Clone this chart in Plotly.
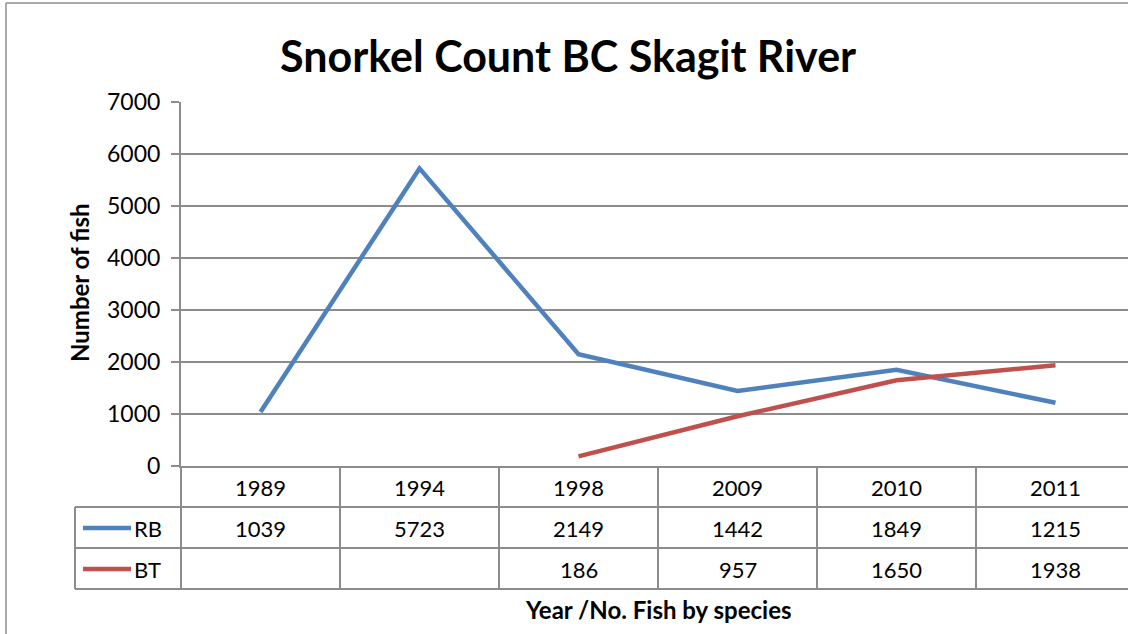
import plotly.graph_objects as go

years = ["1989", "1994", "1998", "2009", "2010", "2011"]
rb_values = [1039, 5723, 2149, 1442, 1849, 1215]
bt_values = [None, None, 186, 957, 1650, 1938]
series_names = ["RB", "BT"]
series_colors = ["#4F81BD", "#C0504D"]
y_ticks = [0, 1000, 2000, 3000, 4000, 5000, 6000, 7000]

W, H = 1128, 634
L, R, T, B = 181, 0, 102, 168
PW, PH = W - L - R, H - T - B
FONT = "Lato"
GRID = "#8C8C8C"

def px(p):
    return (p - L) / PW

def py(p):
    return (H - B - p) / PH

n = len(years)
xs = list(range(n))
col_w = 159.0
x0 = -0.5
x1 = x0 + PW / col_w

def xdata_to_paper(v):
    return (v - x0) / (x1 - x0)

fig = go.Figure()
all_vals = [rb_values, bt_values]
for name, vals, col in zip(series_names, all_vals, series_colors):
    fig.add_trace(go.Scatter(x=xs, y=vals, mode="lines", name=name,
                             line=dict(color=col, width=4.5), connectgaps=False,
                             showlegend=False, hoverinfo="skip"))

shapes = []
shapes.append(dict(type="line", xref="paper", yref="paper",
                   x0=px(6), x1=px(6), y0=py(H + 20), y1=py(3),
                   line=dict(color="#8C8C8C", width=1.5), layer="below"))
shapes.append(dict(type="line", xref="paper", yref="paper",
                   x0=px(6), x1=px(W + 20), y0=py(3), y1=py(3),
                   line=dict(color="#8C8C8C", width=1.5), layer="below"))
for yl in [507, 548, 589]:
    shapes.append(dict(type="line", xref="paper", yref="paper", x0=px(75), x1=px(W + 10),
                       y0=py(yl), y1=py(yl), line=dict(color=GRID, width=2)))
for k in range(n):
    xp = xdata_to_paper(k - 0.5)
    shapes.append(dict(type="line", xref="paper", yref="paper", x0=xp, x1=xp,
                       y0=py(589), y1=py(466), line=dict(color=GRID, width=2)))
shapes.append(dict(type="line", xref="paper", yref="paper", x0=px(75), x1=px(75),
                   y0=py(589), y1=py(507), line=dict(color=GRID, width=2)))
key_y = [528, 569]
for col, yk in zip(series_colors, key_y):
    shapes.append(dict(type="line", xref="paper", yref="paper", x0=px(83), x1=px(131),
                       y0=py(yk), y1=py(yk), line=dict(color=col, width=4.5)))

ann = []
tf = dict(family=FONT, size=22, color="#000000")
for i, yr in enumerate(years):
    ann.append(dict(x=xdata_to_paper(i), y=py(487), xref="paper", yref="paper",
                    text=yr, showarrow=False, font=tf, xanchor="center", yanchor="middle"))
for vals, yk in zip(all_vals, key_y):
    for i, v in enumerate(vals):
        if v is None:
            continue
        ann.append(dict(x=xdata_to_paper(i), y=py(yk), xref="paper", yref="paper",
                        text=str(v), showarrow=False, font=tf, xanchor="center", yanchor="middle"))
for name, yk in zip(series_names, key_y):
    ann.append(dict(x=px(132), y=py(yk), xref="paper", yref="paper", text=name,
                    showarrow=False, font=tf, xanchor="left", yanchor="middle"))
ann.append(dict(x=(xdata_to_paper(-0.5) + xdata_to_paper(5.5)) / 2,
                y=py(609), xref="paper", yref="paper",
                text="<b>Year /No. Fish by species</b>", showarrow=False,
                font=dict(family=FONT, size=24, color="#000"), xanchor="center", yanchor="middle"))
ann.append(dict(x=px(79), y=py(283), xref="paper", yref="paper",
                text="<b>Number of fish</b>", textangle=-90, showarrow=False,
                font=dict(family=FONT, size=24, color="#000"), xanchor="center", yanchor="middle"))
ann.append(dict(x=px(568), y=py(55), xref="paper", yref="paper",
                text="<b>Snorkel Count BC Skagit River</b>", showarrow=False,
                font=dict(family=FONT, size=43, color="#000"), xanchor="center", yanchor="middle"))

fig.update_layout(
    template="none",
    width=W, height=H,
    margin=dict(l=L, r=R, t=T, b=B, pad=0, autoexpand=False),
    paper_bgcolor="white", plot_bgcolor="white",
    shapes=shapes, annotations=ann, showlegend=False,
    xaxis=dict(range=[x0, x1], showticklabels=False, showgrid=False, zeroline=False,
               showline=True, linecolor=GRID, linewidth=2, ticks="", fixedrange=True,
               automargin=False, mirror=False),
    yaxis=dict(range=[0, 7000], tickvals=y_ticks, showgrid=True, gridcolor=GRID, gridwidth=1.5,
               zeroline=False, showline=True, linecolor=GRID, linewidth=2, mirror=False,
               ticks="outside", ticklen=8, tickcolor=GRID, tickwidth=1.5, fixedrange=True,
               automargin=False,
               tickfont=dict(family=FONT, size=23, color="#000"), ticklabelstandoff=6),
    font=dict(family=FONT),
)
fig.write_html("out.html", config={"displayModeBar": False},
               post_script="document.documentElement.style.overflow='hidden';"
                           "document.body.style.margin='0';document.body.style.overflow='hidden';"
                           "var d=document.getElementById('{plot_id}');"
                           "d.style.position='fixed';d.style.left='0px';d.style.top='0px';")
